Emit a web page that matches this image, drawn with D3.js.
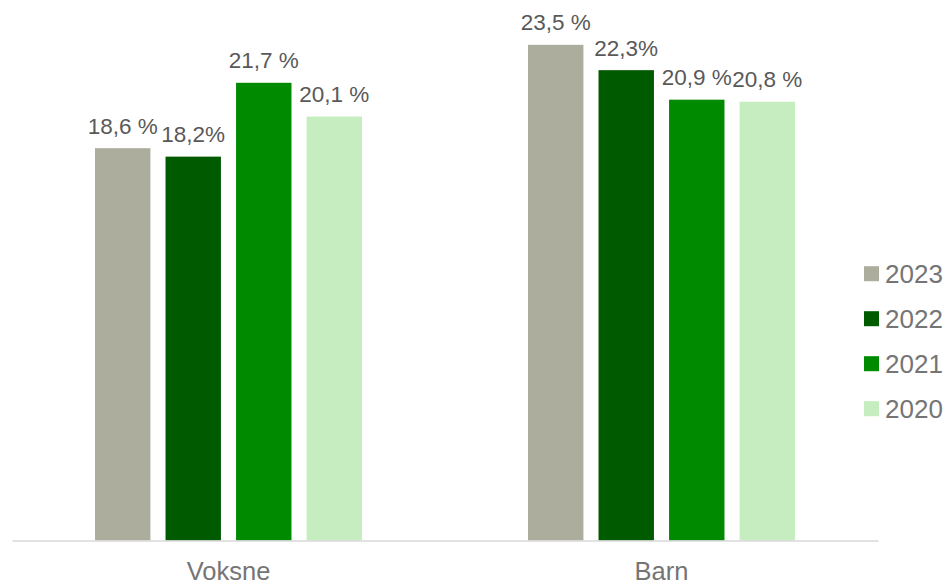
<!DOCTYPE html>
<html>
<head>
<meta charset="utf-8">
<script src="https://cdn.jsdelivr.net/npm/d3@7"></script>
<style>
  html, body { margin: 0; padding: 0; background: #fff; }
  svg { display: block; font-family: "Liberation Sans", Arial, sans-serif; }
</style>
</head>
<body>
<svg id="chart" width="951" height="585"></svg>
<script>
var groups = ["Voksne", "Barn"],
    years = ["2023", "2022", "2021", "2020"],
    colors = ["#acad9d", "#005a00", "#008a00", "#c5edbf"];

// values per year, in the order of groups
var values2023 = [18.6, 23.5],
    values2022 = [18.2, 22.3],
    values2021 = [21.7, 20.9],
    values2020 = [20.1, 20.8];

var labels2023 = ["18,6 %", "23,5 %"],
    labels2022 = ["18,2%", "22,3%"],
    labels2021 = ["21,7 %", "20,9 %"],
    labels2020 = ["20,1 %", "20,8 %"];

var series = [values2023, values2022, values2021, values2020],
    labels = [labels2023, labels2022, labels2021, labels2020];

var svg = d3.select("#chart"),
    x0 = 12, x1 = 878, baseY = 540.5;

var x = d3.scaleBand().domain(groups).range([x0, x1]).padding(0),
    xi = d3.scaleBand().domain(years).range([-133.5, 133.5]).paddingInner(15 / 70).paddingOuter(0),
    y = d3.scaleLinear().domain([0, 25]).range([baseY, 13.2]);

var rows = [];
groups.forEach(function(g, gi) {
  years.forEach(function(yr, yi) {
    rows.push({group: g, year: yr, value: series[yi][gi], label: labels[yi][gi], color: colors[yi]});
  });
});

var cx = d => x(d.group) + x.bandwidth() / 2 + xi(d.year);

svg.append("g").selectAll("rect")
  .data(rows)
  .enter()
  .append("rect")
  .attr("x", cx)
  .attr("y", d => y(d.value))
  .attr("width", xi.bandwidth())
  .attr("height", d => baseY - y(d.value))
  .attr("fill", d => d.color);

svg.append("g").selectAll("text")
  .data(rows)
  .enter()
  .append("text")
  .attr("x", d => cx(d) + xi.bandwidth() / 2)
  .attr("y", d => y(d.value) - 14.5)
  .attr("text-anchor", "middle")
  .attr("font-size", 22.5)
  .attr("fill", "#595959")
  .text(d => d.label);

// category axis
var axis = svg.append("g")
  .attr("transform", "translate(0," + baseY + ")")
  .call(d3.axisBottom(x).tickSize(0).tickPadding(0));

axis.select(".domain")
  .attr("stroke", "#d9d9d9")
  .attr("stroke-width", 1.5);

axis.selectAll(".tick text")
  .attr("dy", null)
  .attr("y", 39)
  .attr("font-size", 25.5)
  .attr("font-family", "Liberation Sans, Arial, sans-serif")
  .attr("fill", "#757575");

// legend
var legend = svg.append("g").selectAll("g")
  .data(years)
  .enter()
  .append("g")
  .attr("transform", (d, i) => "translate(864," + (273.7 + i * 45) + ")");

legend.append("rect")
  .attr("x", 0)
  .attr("y", -7.5)
  .attr("width", 15)
  .attr("height", 15)
  .attr("fill", (d, i) => colors[i]);

legend.append("text")
  .attr("x", 21)
  .attr("y", 9.5)
  .attr("font-size", 26)
  .attr("fill", "#757575")
  .text(d => d);
</script>
</body>
</html>
